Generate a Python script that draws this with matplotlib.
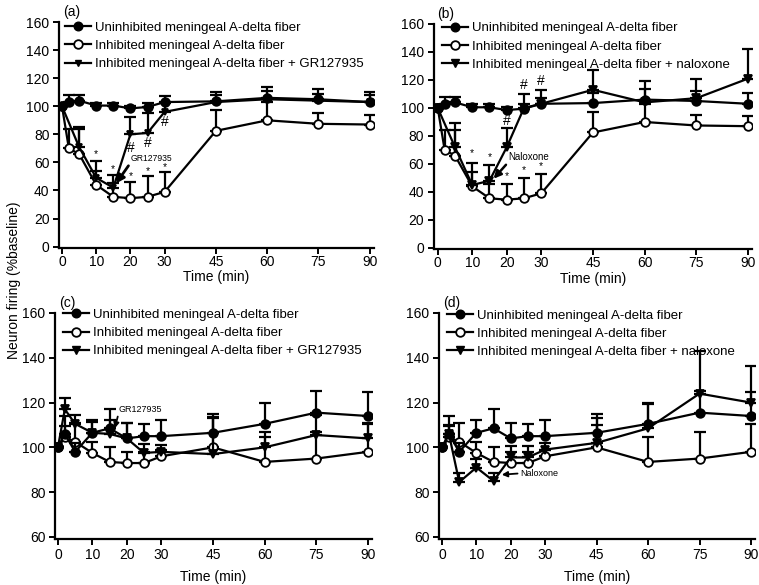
import matplotlib
matplotlib.use("Agg")
import matplotlib.pyplot as plt
from matplotlib.lines import Line2D
import numpy as np

plt.rcParams['font.family'] = ['Liberation Sans', 'DejaVu Sans']

# ---------------- data ----------------
time = [0, 2, 5, 10, 15, 20, 25, 30, 45, 60, 75, 90]
time_no2 = [0, 5, 10, 15, 20, 25, 30, 45, 60, 75, 90]
xticks = [0, 10, 20, 30, 45, 60, 75, 90]

# Panels (a) and (b): inhibited fibers
ab_uninh = [100, 103, 104, 100.5, 100.5, 98.5, 99.5, 103, 103.5, 106, 105, 103]
ab_uninh_err = [0, 5, 4, 2, 2, 2, 3, 4, 7, 7.5, 7, 7.5]
ab_inh = [100, 70, 66, 44, 35.5, 34.5, 35.5, 39, 82.5, 90, 87.5, 87]
ab_inh_err = [0, 14, 18, 10, 10, 11.5, 14.5, 14, 14.5, 13, 7.5, 7]
a_gr = [100, 71, 49, 42, 80, 81, 96, 103, 105, 104, 103]
a_gr_err = [0, 14, 12, 9, 12.5, 14, 6, 5, 6, 5, 5]
b_nal = [100, 72, 45, 48, 72, 100, 103, 113, 104, 107, 121]
b_nal_err = [0, 17, 16, 11, 14, 10, 10, 14, 15, 14, 21]

# Panels (c) and (d): uninhibited fibers
cd_uninh = [100, 106, 98, 106.5, 108.5, 104, 105, 105, 106.5, 110.5, 115.5, 114]
cd_uninh_err = [0, 8, 4, 5.5, 8.5, 7, 5.5, 7, 8.5, 9.5, 9.5, 10.5]
cd_inh = [100, 104.5, 102.5, 97.5, 93.5, 93, 93, 96, 100, 93.5, 95, 98]
cd_inh_err = [0, 5, 8.5, 5, 6.5, 5, 5, 3, 13, 11, 12, 12.5]
c_gr = [100, 117, 110.5, 106.5, 106, 104, 97.5, 98, 97, 100, 105.5, 104]
c_gr_err = [0, 5, 4, 5, 6, 7, 4, 3, 16.5, 7, 9, 7]
d_nal = [100, 106, 84.5, 91, 85, 95.5, 95.5, 99, 102, 108.5, 124, 120]
d_nal_err = [0, 4, 4, 4, 3.5, 5, 5, 3, 8, 11, 19, 16.5]

label_uninh = "Uninhibited meningeal A-delta fiber"
label_inh = "Inhibited meningeal A-delta fiber"
label_gr = "Inhibited meningeal A-delta fiber + GR127935"
label_nal = "Inhibited meningeal A-delta fiber + naloxone"

# significance marks (x, y, symbol)
a_marks = [(10, 66, '*'), (15, 55, '*'), (20, 50, '*'), (25, 53.5, '*'), (30, 56.5, '*'),
           (20, 70, '#'), (25, 73.5, '#'), (30, 88.5, '#')]
b_marks = [(10, 68, '*'), (15, 65, '*'), (20, 51.5, '*'), (25, 56, '*'), (30, 58.5, '*'),
           (20, 91, '#'), (25, 116.5, '#'), (30, 119.5, '#')]

# ---------------- figure ----------------
fig = plt.figure(figsize=(7.59, 5.85), dpi=100)

positions = {
    'a': [0.0781, 0.576, 0.4145, 0.3863],
    'b': [0.5713, 0.5737, 0.4198, 0.3853],
    'c': [0.0727, 0.0783, 0.4175, 0.3867],
    'd': [0.5788, 0.0783, 0.4161, 0.3867],
}
xlims = {'a': (-0.8, 91.2), 'b': (-1.2, 91.2), 'c': (-0.8, 91.2), 'd': (-0.8, 91.2)}

LW = 1.6
MS = 6.2
FS = 10
LFS = 9.5


def series(ax, x, y, err, marker, face, ms=MS, z=2):
    ax.errorbar(x, y, yerr=[np.zeros(len(err)), err], fmt='none', ecolor='black',
                elinewidth=LW, capsize=4.5, capthick=LW, zorder=z)
    ax.plot(x, y, color='black', lw=LW, marker=marker, ms=ms, mfc=face,
            mec='black', mew=1.3, zorder=z + 0.5)


def style(ax, key, ylim, yticks, xpad, labelpad):
    ax.set_xlim(*xlims[key])
    ax.set_ylim(*ylim)
    ax.set_xticks(xticks)
    ax.set_yticks(yticks)
    for s in ['top', 'right']:
        ax.spines[s].set_visible(False)
    for s in ['left', 'bottom']:
        ax.spines[s].set_linewidth(1.6)
    ax.tick_params(axis='both', direction='out', length=4, width=1.4, labelsize=FS)
    ax.tick_params(axis='x', pad=xpad)
    ax.tick_params(axis='y', pad=3)
    ax.set_xlabel("Time (min)", fontsize=FS, labelpad=labelpad)
    ax.text(0.012, 1.012, f"({key})", transform=ax.transAxes,
            fontsize=FS, ha='left', va='bottom')


def add_legend(ax, third_label, tri_ms, anchor):
    handles = [
        Line2D([], [], color='black', lw=LW, marker='o', ms=MS, mfc='black', mec='black'),
        Line2D([], [], color='black', lw=LW, marker='o', ms=MS, mfc='white', mec='black', mew=1.3),
        Line2D([], [], color='black', lw=LW, marker='v', ms=tri_ms, mfc='black', mec='black'),
    ]
    ax.legend(handles, [label_uninh, label_inh, third_label], loc='upper left',
              bbox_to_anchor=anchor, bbox_transform=fig.transFigure, frameon=False,
              fontsize=LFS, handlelength=2.0, handletextpad=0.3, labelspacing=0.45,
              borderpad=0, borderaxespad=0)


# ---- panel (a)
ax = fig.add_axes(positions['a'])
series(ax, time, ab_inh, ab_inh_err, 'o', 'white', z=2)
series(ax, time_no2, a_gr, a_gr_err, 'v', 'black', ms=4.5, z=3)
series(ax, time, ab_uninh, ab_uninh_err, 'o', 'black', z=4)
style(ax, 'a', (-1, 160), range(0, 161, 20), 1.0, 1)
for x, y, m in a_marks:
    ax.text(x, y, m, ha='center', va='center', fontsize=7.5 if m == '*' else 10)
ax.annotate("GR127935", xy=(15.8, 45), xytext=(20.0, 62.8), fontsize=6.2,
            ha='left', va='center',
            arrowprops=dict(arrowstyle='-|>', lw=2.0, color='black',
                            mutation_scale=12, shrinkA=0, shrinkB=0,
                            relpos=(0, 0)))
add_legend(ax, label_gr, 4.5, (0.085, 0.963))

# ---- panel (b)
ax = fig.add_axes(positions['b'])
series(ax, time, ab_inh, ab_inh_err, 'o', 'white', z=2)
series(ax, time_no2, b_nal, b_nal_err, 'v', 'black', ms=MS, z=3)
series(ax, time, ab_uninh, ab_uninh_err, 'o', 'black', z=4)
style(ax, 'b', (-1, 160), range(0, 161, 20), 1.0, 1)
for x, y, m in b_marks:
    ax.text(x, y, m, ha='center', va='center', fontsize=7.5 if m == '*' else 10)
ax.annotate("Naloxone", xy=(16.2, 49.5), xytext=(20.5, 65), fontsize=7,
            ha='left', va='center',
            arrowprops=dict(arrowstyle='-|>', lw=1.8, color='black',
                            mutation_scale=11, shrinkA=0, shrinkB=0,
                            relpos=(0, 0)))
add_legend(ax, label_nal, MS, (0.582, 0.962))

# ---- panel (c)
ax = fig.add_axes(positions['c'])
series(ax, time, cd_inh, cd_inh_err, 'o', 'white', z=2)
series(ax, time, c_gr, c_gr_err, 'v', 'black', ms=MS, z=3)
series(ax, time, cd_uninh, cd_uninh_err, 'o', 'black', z=4)
style(ax, 'c', (59, 160), range(60, 161, 20), 2.0, 6)
ax.annotate("GR127935", xy=(16.5, 108.5), xytext=(17.7, 117), fontsize=6.5,
            ha='left', va='center',
            arrowprops=dict(arrowstyle='-|>', lw=1.3, color='black',
                            mutation_scale=8, shrinkA=0, shrinkB=0,
                            relpos=(0, 0.2)))
add_legend(ax, label_gr, MS, (0.083, 0.472))

# ---- panel (d)
ax = fig.add_axes(positions['d'])
series(ax, time, cd_inh, cd_inh_err, 'o', 'white', z=2)
series(ax, time, d_nal, d_nal_err, 'v', 'black', ms=MS, z=3)
series(ax, time, cd_uninh, cd_uninh_err, 'o', 'black', z=4)
style(ax, 'd', (59, 160), range(60, 161, 20), 2.0, 6)
ax.annotate("Naloxone", xy=(17.4, 87.8), xytext=(22.8, 88.4), fontsize=6.5,
            ha='left', va='center',
            arrowprops=dict(arrowstyle='-|>', lw=1.3, color='black',
                            mutation_scale=8, shrinkA=0, shrinkB=0,
                            relpos=(0, 0.5)))
add_legend(ax, label_nal, MS, (0.5885, 0.471))

fig.text(0.019, 0.521, "Neuron firing (%baseline)", rotation=90, ha='center',
         va='center', fontsize=FS)

fig.savefig("out.png", dpi=100)
